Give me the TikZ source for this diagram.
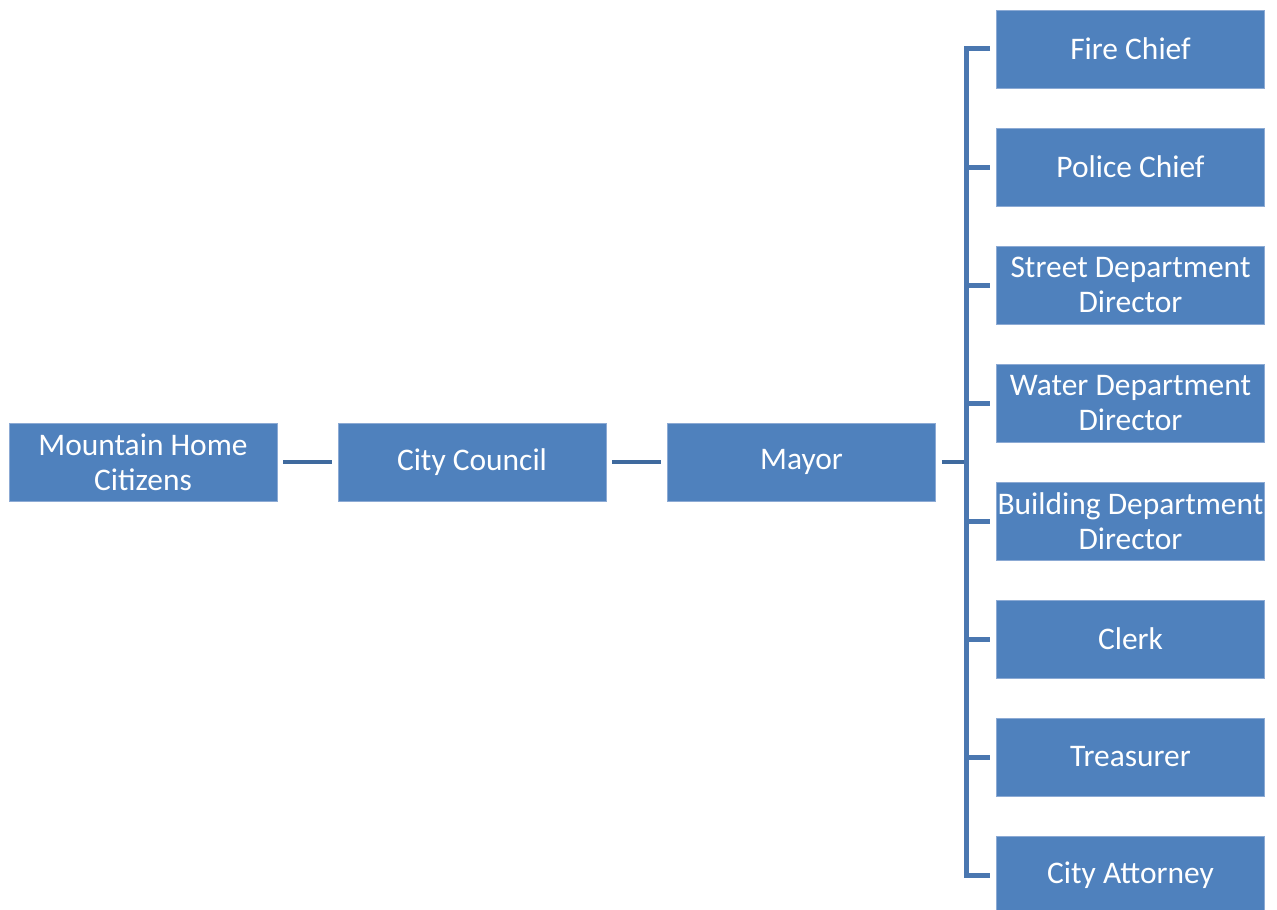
\documentclass[tikz,border=0pt]{standalone}
\usepackage{fontspec}
\setmainfont{Carlito}
\usetikzlibrary{positioning}
\definecolor{boxblue}{HTML}{4F81BD}
\definecolor{boxedge}{HTML}{8CAAD4}
\definecolor{linkblue}{HTML}{3F6A9E}
\definecolor{busblue}{HTML}{4A77B0}

\begin{document}
\begin{tikzpicture}[x=0.02cm,y=-0.02cm]
	\tikzset{office/.style={draw=boxedge,line width=0.4pt,fill=boxblue,text=white,align=center,
			minimum width=5.36cm,minimum height=1.56cm,inner sep=0pt,
			font=\fontsize{17.9}{20}\selectfont}}
	\tikzset{link/.style={draw=linkblue,line width=0.08cm,shorten <=0.12cm,shorten >=0.12cm}}
	\tikzset{bus/.style={draw=busblue,line width=0.1cm,line join=miter}}
	\useasboundingbox (0,0) rectangle (1277,909);
	\node[office] (citizens) at (143,462) {Mountain Home\\Citizens};
	\node[office] (council) at (472,462) {City Council};
	\node[office] (mayor) at (801.5,462) {Mayor};
	\foreach \name/\txt [count=\i from 0] in {fire/Fire Chief,police/Police Chief,street/Street Department\\Director,water/Water Department\\Director,building/Building Department\\Director,clerk/Clerk,treasurer/Treasurer,attorney/City Attorney}
		\node[office] (\name) at (1130.5,49+118*\i) {\txt};
	\coordinate (bus) at (966,462);
	\draw[link] (citizens) -- (council);
	\draw[link] (council) -- (mayor);
	\draw[link,shorten >=0pt] (mayor.east) -- (bus);
	\draw[bus,shorten <=0.12cm,shorten >=0.12cm] (fire.west) -- (bus |- fire) -- (bus |- attorney) -- (attorney.west);
	\foreach \name in {police,street,water,building,clerk,treasurer}
		\draw[bus,shorten >=0.12cm] (bus |- \name) -- (\name.west);
\end{tikzpicture}
\end{document}
